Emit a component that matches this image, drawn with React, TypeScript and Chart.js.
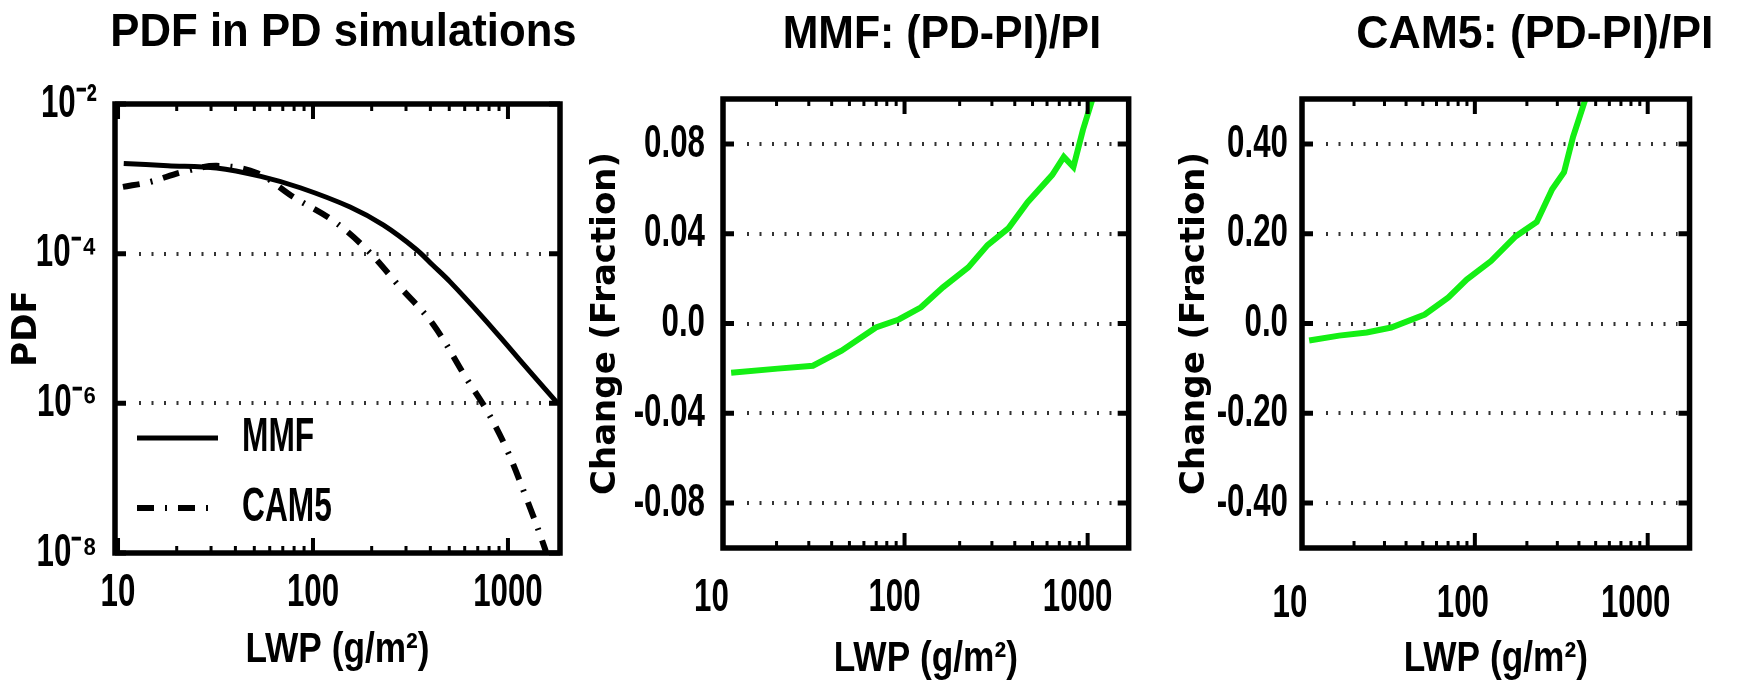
import React, { useEffect, useRef } from 'react';
import { Chart, registerables } from 'chart.js';

Chart.register(...registerables);

// ---------- fonts (a family starting with CondNN is drawn scaled horizontally to NN%) ----------
const TICK_FONT = "Cond68, 'Liberation Sans', Arial, sans-serif";
const XTITLE_FONT = "Cond84, 'Liberation Sans', Arial, sans-serif";
const LEGEND_FONT = "Cond66, 'Liberation Sans', Arial, sans-serif";
const YTITLE_FONT = "'DejaVu Sans', Verdana, sans-serif";

// ---------- data ----------
// Panel 1: PDF in PD simulations (log-log)
const pdfLwpMMF = [10.7, 18, 32, 54, 86, 155, 230, 340, 412, 505, 745, 1000, 1340, 1800];
const pdfMMF = [1.6e-3, 1.5e-3, 1.4e-3, 1.08e-3, 7.6e-4, 4.2e-4, 2.4e-4, 1.13e-4, 7.0e-5, 4.2e-5, 1.4e-5, 5.8e-6, 2.4e-6, 1.0e-6];
const pdfLwpCAM5 = [10.6, 14.6, 21.5, 32, 51.6, 79, 126, 189, 279, 412, 616, 780, 988, 1250, 1550, 1620];
const pdfCAM5 = [7.8e-4, 9.1e-4, 1.24e-3, 1.49e-3, 1.2e-3, 5.75e-4, 2.8e-4, 1.13e-4, 3.6e-5, 1.15e-5, 2.1e-6, 8.0e-7, 2.4e-7, 5.2e-8, 1.13e-8, 7e-9];

// Panel 2: MMF (PD-PI)/PI
const chgLwpMMF = [11.3, 20.3, 31.6, 45.3, 69.8, 93, 123, 162, 223, 284, 370, 470, 641, 741, 836, 942, 1100];
const chgMMF = [-0.0219, -0.0201, -0.0188, -0.0121, -0.0018, 0.0018, 0.0072, 0.0161, 0.025, 0.0349, 0.0425, 0.054, 0.0662, 0.0742, 0.0697, 0.0862, 0.104];

// Panel 3: CAM5 (PD-PI)/PI
const chgLwpCAM5 = [11.0, 16.4, 23.7, 32.8, 51.3, 70.3, 89.7, 124, 172, 228, 280, 328, 370, 433, 450];
const chgCAM5 = [-0.038, -0.027, -0.02, -0.009, 0.02, 0.058, 0.098, 0.139, 0.194, 0.226, 0.299, 0.337, 0.416, 0.496, 0.53];

// ---------- ticks ----------
const lwpTickValues = [10, 100, 1000];
const lwpTickLabels = ['10', '100', '1000'];
const pdfTickValues = [1e-8, 1e-6, 1e-4, 1e-2];
const pdfTickLabels = ['10\u207B\u2078', '10\u207B\u2076', '10\u207B\u2074', '10\u207B\u00B2'];
const pdfGridValues = [1e-6, 1e-4];
const mmfChgTickValues = [-0.08, -0.04, 0, 0.04, 0.08];
const mmfChgTickLabels = ['-0.08', '-0.04', '0.0', '0.04', '0.08'];
const camChgTickValues = [-0.4, -0.2, 0, 0.2, 0.4];
const camChgTickLabels = ['-0.40', '-0.20', '0.0', '0.20', '0.40'];

const GREEN = '#14ef14';
const CAM5_DASH = [17, 11, 2, 11];

const toPoints = (xs: number[], ys: number[]) => xs.map((x, i) => ({ x, y: ys[i] }));

// Text whose font family starts with CondNN is drawn horizontally scaled (condensed face look)
const condensePlugin = {
  id: 'condense',
  afterInit(chart: any) {
    const ctx = chart.ctx;
    const orig = ctx.fillText;
    ctx.fillText = function (text: string, x: number, y: number, maxWidth?: number) {
      const m = /Cond(\d+)/.exec(this.font);
      if (!m) {
        return maxWidth === undefined ? orig.call(this, text, x, y) : orig.call(this, text, x, y, maxWidth);
      }
      const k = parseInt(m[1], 10) / 100;
      this.save();
      this.translate(x, y);
      this.scale(k, 1);
      orig.call(this, text, 0, 0);
      this.restore();
    };
  },
};

// MATLAB-style frame: box, inward ticks, dotted grid; also places title / in-axes legend
const framePlugin = {
  id: 'frame',
  afterLayout(chart: any, _args: any, opts: any) {
    const lg = chart.legend;
    if (lg && lg.options && lg.options.display && lg.options.position === 'chartArea') {
      lg.top = chart.chartArea.top + 1;
      lg.bottom = chart.chartArea.bottom + 1;
    }
    const tb = chart.titleBlock;
    if (tb && opts.titleShift) {
      tb.left = chart.chartArea.left + opts.titleShift;
      tb.right = chart.chartArea.right + opts.titleShift;
    }
  },
  beforeDatasetsDraw(chart: any, _args: any, opts: any) {
    const { ctx, chartArea: a } = chart;
    const ys = chart.scales.y;
    ctx.save();
    ctx.strokeStyle = '#333';
    ctx.lineWidth = 4;
    ctx.setLineDash([2, 10.5]);
    for (const v of opts.grid as number[]) {
      const py = Math.round(ys.getPixelForValue(v));
      ctx.beginPath();
      ctx.moveTo(a.left + 24, py);
      ctx.lineTo(a.right - 12, py);
      ctx.stroke();
    }
    ctx.restore();
  },
  afterDatasetsDraw(chart: any, _args: any, opts: any) {
    const { ctx, chartArea: a } = chart;
    const xs = chart.scales.x;
    const ys = chart.scales.y;
    ctx.save();
    ctx.strokeStyle = '#000';
    ctx.setLineDash([]);
    ctx.lineCap = 'butt';
    ctx.lineWidth = 5;
    for (const v of opts.yTicks as number[]) {
      const py = ys.getPixelForValue(v);
      ctx.beginPath();
      ctx.moveTo(a.left, py);
      ctx.lineTo(a.left + 11, py);
      ctx.moveTo(a.right, py);
      ctx.lineTo(a.right - 11, py);
      ctx.stroke();
    }
    for (let d = 1; d <= 10000; d *= 10) {
      for (let m = 1; m <= 9; m++) {
        const v = m * d;
        if (v < xs.min || v > xs.max) continue;
        const px = xs.getPixelForValue(v);
        const major = m === 1;
        const len = major ? 15 : 7;
        ctx.lineWidth = major ? 4 : 3;
        ctx.beginPath();
        ctx.moveTo(px, a.bottom);
        ctx.lineTo(px, a.bottom - len);
        ctx.moveTo(px, a.top);
        ctx.lineTo(px, a.top + len);
        ctx.stroke();
      }
    }
    ctx.lineWidth = 5.5;
    ctx.lineJoin = 'miter';
    ctx.strokeRect(a.left, a.top, a.right - a.left, a.bottom - a.top);
    ctx.restore();
  },
};

type Panel = {
  left: number;
  width: number;
  yAxisWidth: number;
  padRight: number;
  xAxisHeight: number;
  title: string;
  titleFont: string;
  titleShift: number;
  titleTop: number;
  titleBottom: number;
  xMin: number;
  xMax: number;
  yType: 'linear' | 'logarithmic';
  yMin: number;
  yMax: number;
  yTicks: number[];
  yLabels: string[];
  yGrid: number[];
  yTickPad: number;
  yTitle: string;
  yTitlePad: number;
  xTickPad: number;
  xLabelOffset: number;
  xTitlePadBottom: number;
  datasets: any[];
  legend: boolean;
};

const panels: Panel[] = [
  {
    left: 0, width: 600, yAxisWidth: 115, padRight: 40, xAxisHeight: 136,
    title: 'PDF in PD simulations', titleFont: "Cond93, 'Liberation Sans', Arial, sans-serif",
    titleShift: 6, titleTop: 10, titleBottom: 47,
    xMin: 9.65, xMax: 1849,
    yType: 'logarithmic', yMin: 1e-8, yMax: 1e-2,
    yTicks: pdfTickValues, yLabels: pdfTickLabels, yGrid: pdfGridValues,
    yTickPad: 18, yTitle: 'PDF', yTitlePad: 10,
    xTickPad: 17, xLabelOffset: 0, xTitlePadBottom: 18,
    legend: true,
    datasets: [
      {
        label: 'MMF', data: toPoints(pdfLwpMMF, pdfMMF), borderColor: '#000', backgroundColor: '#000',
        borderWidth: 5, pointRadius: 0, tension: 0.35,
      },
      {
        label: 'CAM5', data: toPoints(pdfLwpCAM5, pdfCAM5), borderColor: '#000', backgroundColor: '#000',
        borderWidth: 6, borderDash: CAM5_DASH, pointRadius: 0, tension: 0.35,
      },
    ],
  },
  {
    left: 580, width: 590, yAxisWidth: 143, padRight: 22, xAxisHeight: 141,
    title: 'MMF: (PD-PI)/PI', titleFont: "Cond91, 'Liberation Sans', Arial, sans-serif",
    titleShift: 16, titleTop: 12, titleBottom: 40,
    xMin: 10.2, xMax: 1675,
    yType: 'linear', yMin: -0.1, yMax: 0.1,
    yTicks: mmfChgTickValues, yLabels: mmfChgTickLabels, yGrid: mmfChgTickValues,
    yTickPad: 18, yTitle: 'Change (Fraction)', yTitlePad: 9,
    xTickPad: 27, xLabelOffset: -10, xTitlePadBottom: 9,
    legend: false,
    datasets: [
      { label: 'MMF', data: toPoints(chgLwpMMF, chgMMF), borderColor: GREEN, borderWidth: 6, pointRadius: 0, tension: 0 },
    ],
  },
  {
    left: 1170, width: 567, yAxisWidth: 132, padRight: 9, xAxisHeight: 141,
    title: 'CAM5: (PD-PI)/PI', titleFont: "Cond95, 'Liberation Sans', Arial, sans-serif",
    titleShift: 39, titleTop: 12, titleBottom: 40,
    xMin: 10, xMax: 1746,
    yType: 'linear', yMin: -0.5, yMax: 0.5,
    yTicks: camChgTickValues, yLabels: camChgTickLabels, yGrid: camChgTickValues,
    yTickPad: 14, yTitle: 'Change (Fraction)', yTitlePad: 8,
    xTickPad: 33, xLabelOffset: -12, xTitlePadBottom: 9,
    legend: false,
    datasets: [
      { label: 'CAM5', data: toPoints(chgLwpCAM5, chgCAM5), borderColor: GREEN, borderWidth: 6, pointRadius: 0, tension: 0 },
    ],
  },
];

function buildConfig(p: Panel): any {
  return {
    type: 'line',
    data: { datasets: p.datasets },
    plugins: [condensePlugin, framePlugin],
    options: {
      animation: false,
      responsive: false,
      devicePixelRatio: 1,
      layout: { padding: { left: 0, right: p.padRight, top: 0, bottom: 0 } },
      plugins: {
        title: {
          display: true, text: p.title, fullSize: false, align: 'center', color: '#000',
          font: { family: p.titleFont, size: 47, weight: 'bold', lineHeight: 1 },
          padding: { top: p.titleTop, bottom: p.titleBottom },
        },
        legend: p.legend
          ? {
              display: true, position: 'chartArea', align: 'end',
              labels: {
                usePointStyle: true, pointStyle: 'line', pointStyleWidth: 81, padding: 22, color: '#000',
                font: { family: LEGEND_FONT, size: 48, weight: 'bold', lineHeight: 1 },
                generateLabels: (chart: any) => {
                  const items = (Chart.defaults as any).plugins.legend.labels.generateLabels(chart);
                  items.forEach((it: any) => {
                    const ds = chart.data.datasets[it.datasetIndex];
                    it.lineDash = ds.borderDash || [];
                    it.lineWidth = ds.borderWidth;
                    it.pointStyle = 'line';
                  });
                  return items;
                },
              },
            }
          : { display: false },
        tooltip: { enabled: false },
        frame: { grid: p.yGrid, yTicks: p.yTicks, titleShift: p.titleShift },
      },
      scales: {
        x: {
          type: 'logarithmic', position: 'bottom', min: p.xMin, max: p.xMax,
          afterBuildTicks: (s: any) => { s.ticks = lwpTickValues.map((v) => ({ value: v })); },
          afterFit: (s: any) => { s.height = p.xAxisHeight; },
          grid: { display: false, drawTicks: false },
          border: { display: false },
          ticks: {
            autoSkip: false, maxRotation: 0, minRotation: 0, padding: p.xTickPad, labelOffset: p.xLabelOffset,
            color: '#000', font: { family: TICK_FONT, size: 46, weight: 'bold', lineHeight: 1 },
            callback: (_v: any, i: number) => lwpTickLabels[i],
          },
          title: {
            display: true, text: 'LWP (g/m\u00B2)', color: '#000',
            font: { family: XTITLE_FONT, size: 42, weight: 'bold', lineHeight: 1 },
            padding: { top: 0, bottom: p.xTitlePadBottom },
          },
        },
        y: {
          type: p.yType, position: 'left', min: p.yMin, max: p.yMax,
          afterBuildTicks: (s: any) => { s.ticks = p.yTicks.map((v) => ({ value: v })); },
          afterFit: (s: any) => { s.width = p.yAxisWidth; },
          grid: { display: false, drawTicks: false },
          border: { display: false },
          ticks: {
            autoSkip: false, padding: p.yTickPad, color: '#000',
            font: { family: TICK_FONT, size: 46, weight: 'bold', lineHeight: 1 },
            callback: (_v: any, i: number) => p.yLabels[i],
          },
          title: {
            display: true, text: p.yTitle, color: '#000',
            font: { family: YTITLE_FONT, size: 34, weight: 'bold', lineHeight: 1 },
            padding: { top: p.yTitlePad, bottom: 0 },
          },
        },
      },
    },
  };
}

function PanelChart({ p }: { p: Panel }) {
  const ref = useRef<HTMLCanvasElement>(null);
  useEffect(() => {
    const chart = new Chart(ref.current as HTMLCanvasElement, buildConfig(p));
    return () => chart.destroy();
  }, []);
  return (
    <canvas
      ref={ref}
      width={p.width}
      height={689}
      style={{ position: 'absolute', left: p.left, top: 0, width: p.width, height: 689 }}
    />
  );
}

export default function App() {
  return (
    <div style={{ position: 'absolute', left: 0, top: 0, width: 1737, height: 689, background: '#fff', overflow: 'hidden' }}>
      {panels.map((p, i) => (
        <PanelChart key={i} p={p} />
      ))}
    </div>
  );
}
